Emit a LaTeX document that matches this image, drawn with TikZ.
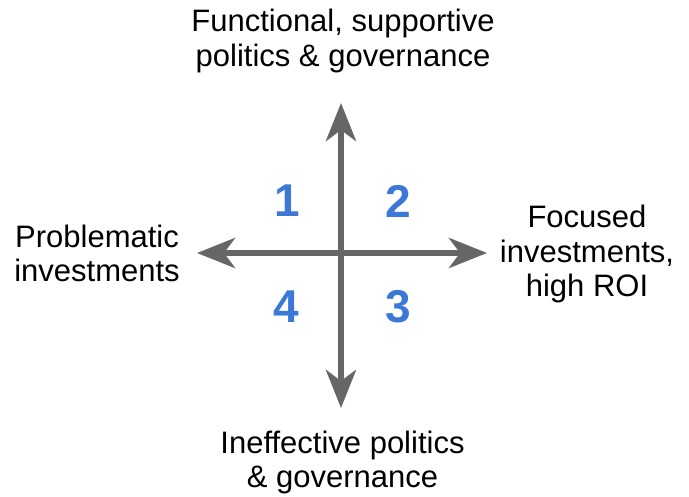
\documentclass[tikz,border=0pt]{standalone}
\usepackage{fontspec}
\setmainfont{Liberation Sans}
\usepackage{xcolor}
\usetikzlibrary{arrows.meta}
\definecolor{axisgray}{HTML}{666666}
\definecolor{quadblue}{HTML}{3C78D8}
\tikzset{
  axis/.style={draw=axisgray,line width=6pt,
    {Stealth[length=38pt,width=30pt,inset=11pt]}-{Stealth[length=38pt,width=30pt,inset=11pt]}},
  lbl/.style={align=center,inner sep=0,font=\fontsize{31}{34.5}\selectfont},
  quad/.style={text=quadblue,inner sep=0,font=\fontsize{46}{46}\selectfont\bfseries}
}
\begin{document}
\begin{tikzpicture}[x=1pt,y=-1pt]
\useasboundingbox (0,0) rectangle (689,497);
\coordinate (top) at (341,103);
\coordinate (bot) at (341,408);
\coordinate (lft) at (197,253);
\coordinate (rgt) at (487,253);
\draw[axis] (lft) -- (rgt);
\draw[axis] (bot) -- (top);
\node[quad] (q1) at (287,201) {1};
\node[quad] (q2) at (398,201) {2};
\node[quad] (q3) at (398,307) {3};
\node[quad] (q4) at (286,307) {4};
\node[lbl] (north) at (343,41) {Functional, supportive\\politics \& governance};
\node[lbl] (west) at (97,253.5) {Problematic\\investments};
\node[lbl] (east) at (587,254) {Focused\\investments,\\high ROI};
\node[lbl] (south) at (342.5,462.5) {Ineffective politics\\\& governance};
\end{tikzpicture}
\end{document}
